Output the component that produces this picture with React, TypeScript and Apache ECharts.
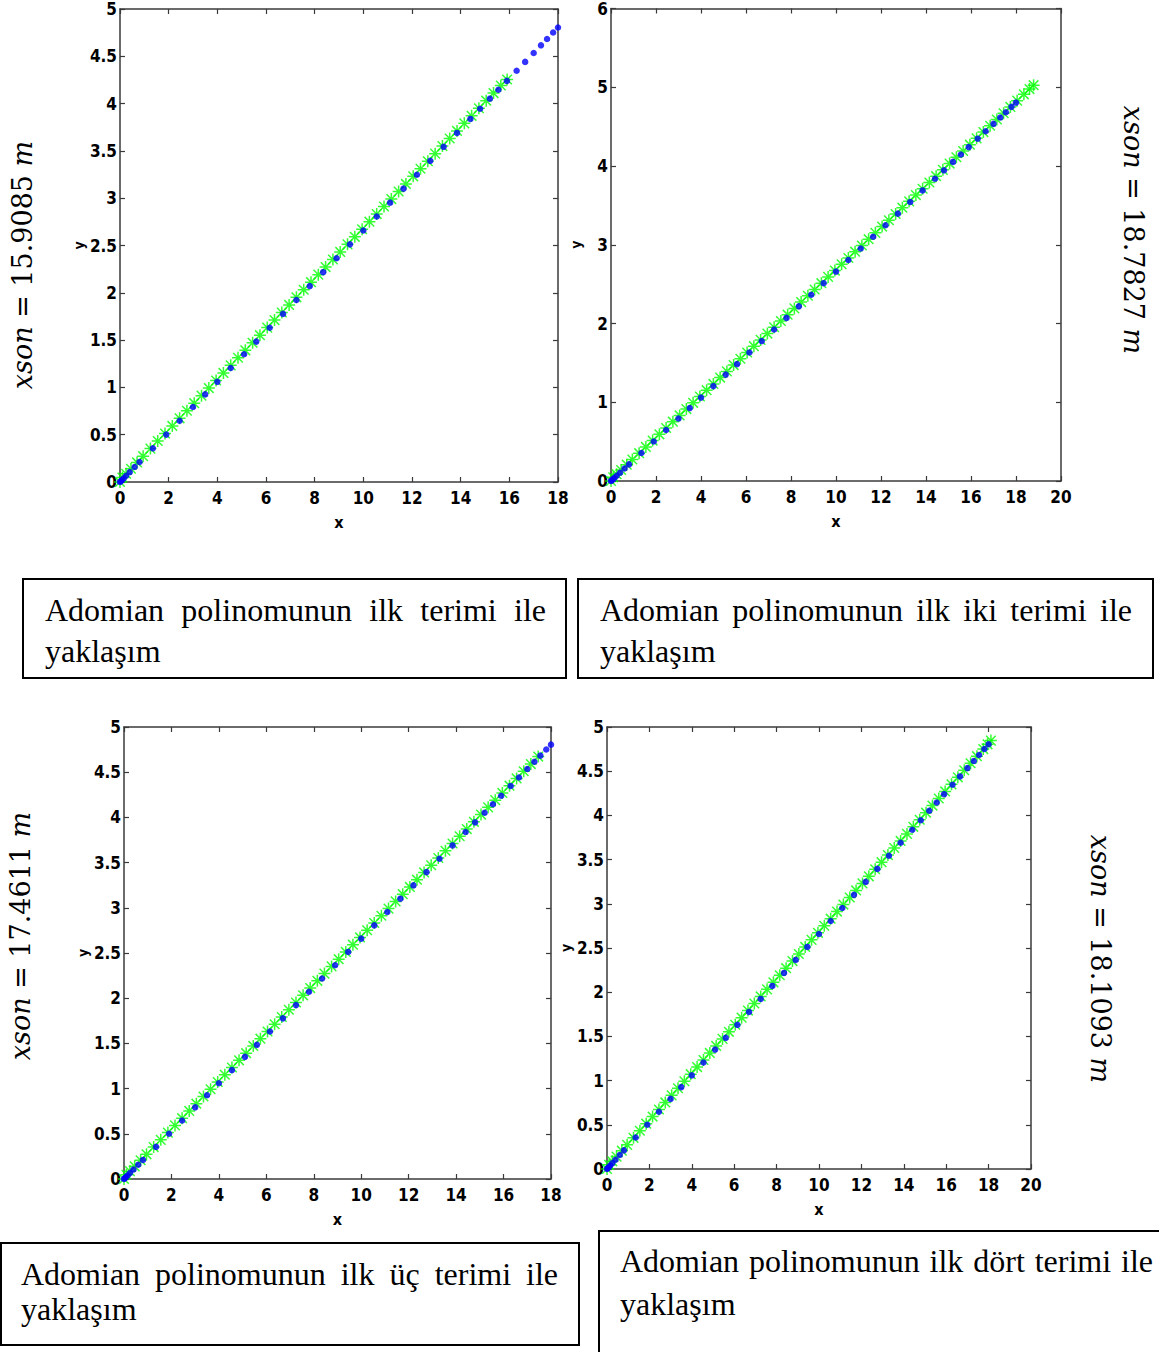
import React, { useEffect, useRef } from "react";
import * as echarts from "echarts";

// ---------- DATA ----------
// reference (blue dots) solution, same in all four panels
const exactSolution: number[][] = [
  [0, 0], [0.03, 0.008], [0.08, 0.021], [0.15, 0.039], [0.25, 0.066], [0.4, 0.105],
  [0.6, 0.158], [0.8, 0.211], [1.35, 0.356], [1.9, 0.501], [2.45, 0.647], [3.0, 0.793],
  [3.5, 0.926], [4.0, 1.059], [4.55, 1.205], [5.1, 1.351], [5.6, 1.484], [6.15, 1.631],
  [6.7, 1.777], [7.25, 1.924], [7.8, 2.071], [8.35, 2.218], [8.9, 2.365], [9.45, 2.512],
  [10.0, 2.659], [10.55, 2.806], [11.1, 2.953], [11.65, 3.101], [12.2, 3.248], [12.75, 3.395],
  [13.3, 3.543], [13.85, 3.69], [14.4, 3.838], [14.8, 3.945], [15.2, 4.052], [15.55, 4.146],
  [15.9, 4.24], [16.3, 4.347], [16.65, 4.441], [17.0, 4.535], [17.3, 4.616], [17.55, 4.683],
  [17.8, 4.751], [18.0, 4.805],
];

// common part of the Adomian approximations (green markers)
const approxCommon: number[][] = [
  [0, 0], [0.1, 0.047], [0.25, 0.087], [0.45, 0.14], [0.7, 0.207], [0.95, 0.273],
  [1.25, 0.353], [1.55, 0.433], [1.85, 0.513], [2.15, 0.593], [2.45, 0.673], [2.75, 0.753],
  [3.05, 0.833], [3.35, 0.913], [3.65, 0.993], [3.95, 1.073], [4.25, 1.153], [4.55, 1.233],
  [4.85, 1.313], [5.15, 1.392], [5.45, 1.472], [5.75, 1.552], [6.05, 1.632], [6.35, 1.712],
  [6.65, 1.792], [6.95, 1.872], [7.25, 1.952], [7.55, 2.032], [7.85, 2.112], [8.15, 2.192],
  [8.45, 2.272], [8.75, 2.352], [9.05, 2.432], [9.35, 2.512], [9.65, 2.592], [9.95, 2.672],
  [10.25, 2.752], [10.55, 2.832], [10.85, 2.912], [11.15, 2.991], [11.45, 3.071], [11.75, 3.151],
  [12.05, 3.231], [12.35, 3.311], [12.65, 3.391], [12.95, 3.471], [13.25, 3.551], [13.55, 3.631],
  [13.85, 3.711], [14.15, 3.791], [14.45, 3.871], [14.75, 3.951], [15.05, 4.031], [15.35, 4.111],
  [15.65, 4.191],
];
const approxTail1: number[][] = [[15.9085, 4.255]];
const approxTail2: number[][] = [
  [15.95, 4.271], [16.25, 4.351], [16.55, 4.431], [16.85, 4.511], [17.15, 4.59], [17.45, 4.67],
  [17.75, 4.75], [18.05, 4.83], [18.35, 4.91], [18.6, 4.977], [18.7827, 5.026],
];
const approxTail3: number[][] = [
  [15.95, 4.271], [16.25, 4.351], [16.55, 4.431], [16.85, 4.511], [17.15, 4.59], [17.4611, 4.673],
];
const approxTail4: number[][] = [
  [15.95, 4.271], [16.25, 4.351], [16.55, 4.431], [16.85, 4.511], [17.15, 4.59], [17.45, 4.67],
  [17.75, 4.75], [17.95, 4.804], [18.1093, 4.846],
];

const xMaxes = [18, 20, 18, 20];
const xSteps = [2, 2, 2, 2];
const yMaxes = [5, 6, 5, 5];
const ySteps = [0.5, 1, 0.5, 0.5];
const xsonValues = ["15.9085", "18.7827", "17.4611", "18.1093"];
const captionLine1 = [
  ["Adomian", "polinomunun", "ilk", "terimi", "ile"],
  ["Adomian", "polinomunun", "ilk", "iki", "terimi", "ile"],
  ["Adomian", "polinomunun", "ilk", "üç", "terimi", "ile"],
  ["Adomian", "polinomunun", "ilk", "dört", "terimi", "ile"],
];
const captionLine2 = ["yaklaşım", "yaklaşım", "yaklaşım", "yaklaşım"];

// ---------- LAYOUT ----------
const W = 1159;
const H = 1352;
const grids = [
  { left: 120, top: 9, width: 438, height: 473 },
  { left: 611, top: 8, width: 450, height: 473 },
  { left: 124, top: 727, width: 427, height: 452 },
  { left: 607, top: 727, width: 424, height: 442 },
];
const boxes = [
  { x: 23, y: 579, w: 543, h: 99, tx0: 45, tx1: 546, l1: 610, l2: 651 },
  { x: 578, y: 579, w: 575, h: 99, tx0: 600, tx1: 1132, l1: 610, l2: 651 },
  { x: 1, y: 1243, w: 578, h: 102, tx0: 21, tx1: 558, l1: 1274, l2: 1309 },
  { x: 599, y: 1231, w: 620, h: 200, tx0: 620, tx1: 1153, l1: 1261, l2: 1304 },
];
const sideLabels = [
  { x: 22, y: 265, rot: Math.PI / 2 },
  { x: 1133, y: 230, rot: -Math.PI / 2 },
  { x: 20, y: 936, rot: Math.PI / 2 },
  { x: 1100, y: 959, rot: -Math.PI / 2 },
];

const TICK_FONT = '"Liberation Sans Narrow", "Arial Narrow", "DejaVu Sans Condensed", sans-serif';
const SERIF = '"Liberation Serif", "Times New Roman", serif';
const CAPTION_SIZE = 32;
const AXIS_COLOR = "#3a3a3a";

const asterisk = "path://M1,1L9,9M9,1L1,9M5,0L5,10M0,5L10,5";

function measure(text: string, size: number, family: string): number {
  const c = document.createElement("canvas").getContext("2d");
  if (!c) return text.length * size * 0.5;
  c.font = `${size}px ${family}`;
  return c.measureText(text).width;
}

function lineElements(words: string[], x0: number, x1: number, y: number, justify: boolean) {
  const widths = words.map((w) => measure(w, CAPTION_SIZE, SERIF));
  const total = widths.reduce((a, b) => a + b, 0);
  const gap = justify && words.length > 1 ? (x1 - x0 - total) / (words.length - 1) : measure(" ", CAPTION_SIZE, SERIF);
  const els: any[] = [];
  let x = x0;
  words.forEach((w, i) => {
    els.push({
      type: "text",
      x,
      y,
      style: {
        text: w,
        fontSize: CAPTION_SIZE,
        fontFamily: SERIF,
        fill: "#000",
        align: "left",
        verticalAlign: "middle",
      },
    });
    x += widths[i] + gap;
  });
  return els;
}

export default function App() {
  const ref = useRef<HTMLDivElement>(null);

  useEffect(() => {
    if (!ref.current) return;
    const chart = echarts.init(ref.current, null, { renderer: "svg" });

    const approxSets = [
      approxCommon.concat(approxTail1),
      approxCommon.concat(approxTail2),
      approxCommon.concat(approxTail3),
      approxCommon.concat(approxTail4),
    ];

    const xAxis: any[] = [];
    const yAxis: any[] = [];
    const series: any[] = [];
    const gridOpts: any[] = [];

    const labelStyle = {
      fontFamily: TICK_FONT,
      fontWeight: "bold",
      fontSize: 17,
      color: "#000",
    };

    grids.forEach((g, i) => {
      gridOpts.push({ left: g.left, top: g.top, width: g.width, height: g.height, containLabel: false });
      const base = {
        gridIndex: i,
        type: "value",
        min: 0,
        axisLine: { show: true, onZero: false, lineStyle: { color: AXIS_COLOR, width: 1.5 } },
        axisTick: { show: true, inside: true, length: 5, lineStyle: { color: AXIS_COLOR, width: 1.2 } },
        splitLine: { show: false },
      };
      xAxis.push({
        ...base,
        position: "bottom",
        max: xMaxes[i],
        interval: xSteps[i],
        axisLabel: { ...labelStyle, margin: 7, showMinLabel: true, showMaxLabel: true },
        name: "x",
        nameLocation: "middle",
        nameGap: 32,
        nameTextStyle: { fontFamily: TICK_FONT, fontWeight: "bold", fontSize: 16, color: "#000" },
      });
      xAxis.push({
        ...base,
        position: "top",
        max: xMaxes[i],
        interval: xSteps[i],
        axisLabel: { show: false },
      });
      yAxis.push({
        ...base,
        position: "left",
        max: yMaxes[i],
        interval: ySteps[i],
        axisLabel: { ...labelStyle, margin: 3, showMinLabel: true, showMaxLabel: true },
        name: "y",
        nameLocation: "middle",
        nameGap: 28,
        nameRotate: 90,
        nameTextStyle: { fontFamily: TICK_FONT, fontWeight: "bold", fontSize: 14, color: "#000" },
      });
      yAxis.push({
        ...base,
        position: "right",
        max: yMaxes[i],
        interval: ySteps[i],
        axisLabel: { show: false },
      });
      series.push({
        type: "scatter",
        xAxisIndex: 2 * i,
        yAxisIndex: 2 * i,
        data: approxSets[i],
        symbol: asterisk,
        symbolSize: 12,
        itemStyle: { color: "rgba(0,0,0,0)", borderColor: "#00ff00", borderWidth: 1.5 },
        z: 2,
      });
      series.push({
        type: "scatter",
        xAxisIndex: 2 * i,
        yAxisIndex: 2 * i,
        data: exactSolution,
        symbol: "circle",
        symbolSize: 6.5,
        itemStyle: { color: "#0000ff" },
        z: 3,
      });
    });

    const graphic: any[] = [];
    boxes.forEach((b, i) => {
      graphic.push({
        type: "rect",
        shape: { x: b.x, y: b.y, width: b.w, height: b.h },
        style: { fill: "none", stroke: "#000", lineWidth: 2 },
      });
      graphic.push(...lineElements(captionLine1[i], b.tx0, b.tx1, b.l1, true));
      graphic.push(...lineElements([captionLine2[i]], b.tx0, b.tx1, b.l2, false));
    });
    sideLabels.forEach((s, i) => {
      graphic.push({
        type: "text",
        x: s.x,
        y: s.y,
        rotation: s.rot,
        style: {
          text: `{i|xson} = ${xsonValues[i]} {i|m}`,
          fontSize: 27,
          fontFamily: '"DejaVu Serif", serif',
          fill: "#000",
          align: "center",
          verticalAlign: "middle",
          rich: {
            i: { fontStyle: "italic", fontSize: 27, fontFamily: '"DejaVu Serif", serif', fill: "#000" },
          },
        },
      });
    });

    chart.setOption({
      animation: false,
      backgroundColor: "#fff",
      grid: gridOpts,
      xAxis,
      yAxis,
      series,
      graphic,
    });

    return () => chart.dispose();
  }, []);

  return (
    <div
      ref={ref}
      style={{ position: "absolute", left: 0, top: 0, width: W, height: H, background: "#fff" }}
    />
  );
}
